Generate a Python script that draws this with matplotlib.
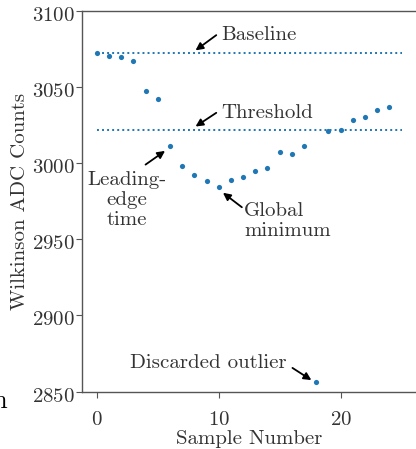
import matplotlib
matplotlib.use("Agg")
import matplotlib.pyplot as plt
import matplotlib.transforms as mtransforms

plt.rcParams['font.family'] = 'cmr10'
plt.rcParams['mathtext.fontset'] = 'cm'
plt.rcParams['axes.formatter.use_mathtext'] = True

# samples
sample = list(range(25))
counts = [3072, 3070, 3069.5, 3067, 3047, 3042, 3011, 2998, 2992, 2988,
          2984, 2989, 2991, 2995, 2997, 3007, 3006, 3011, 2856, 3021,
          3022, 3028, 3030, 3035, 3037]
baseline = 3072
threshold = 3022
line_span = [0, 25]

txt_col = '#333333'
dot_col = '#1f77b4'

fig = plt.figure(figsize=(4.16, 4.49), dpi=100)
ax = fig.add_axes([0.196, 0.128, 0.806, 0.848])

ax.plot(line_span, [baseline, baseline], linestyle=(0, (1, 1.6)), lw=1.4, color=dot_col)
ax.plot(line_span, [threshold, threshold], linestyle=(0, (1, 1.6)), lw=1.4, color=dot_col)
ax.scatter(sample, counts, s=14, color=dot_col, zorder=3, linewidths=0)

ax.set_xlim(-1.25, 26.25)
ax.set_ylim(2850, 3100)
ax.set_xticks([0, 10, 20])
ax.set_yticks([2850, 2900, 2950, 3000, 3050, 3100])

for s in ax.spines.values():
    s.set_color('#555555')
    s.set_linewidth(1.0)
ax.tick_params(axis='both', colors='#555555', labelcolor=txt_col, labelsize=15,
               length=4, width=0.8)
ax.tick_params(axis='y', pad=1)
ax.tick_params(axis='x', pad=10)

# tick labels sit a little below their ticks in the source
shift = mtransforms.ScaledTranslation(0, -3 / 100, fig.dpi_scale_trans)
for lab in ax.get_yticklabels():
    lab.set_transform(lab.get_transform() + shift)

ax.set_xlabel('Sample Number', fontsize=15, color=txt_col, labelpad=1)
ax.set_ylabel('Wilkinson ADC Counts', fontsize=15, color=txt_col, labelpad=2)

arrow = dict(arrowstyle='-|>', color='black', lw=1.3, mutation_scale=11,
             shrinkA=0, shrinkB=0)

# Baseline
ax.annotate('', xy=(8.1, 3074), xytext=(9.8, 3084), arrowprops=arrow)
ax.text(10.2, 3084, 'Baseline', fontsize=15, color=txt_col, va='center', ha='left')

# Threshold
ax.annotate('', xy=(8.1, 3024), xytext=(9.8, 3033), arrowprops=arrow)
ax.text(10.2, 3033, 'Threshold', fontsize=15, color=txt_col, va='center', ha='left')

# Leading-edge time
ax.annotate('', xy=(5.6, 3008), xytext=(4.0, 2999), arrowprops=arrow)
ax.text(2.5, 2976, 'Leading-\nedge\ntime', fontsize=15, color=txt_col,
        va='center', ha='center', multialignment='center', linespacing=1.15)

# Global minimum
ax.annotate('', xy=(10.35, 2980.5), xytext=(11.9, 2971), arrowprops=arrow)
ax.text(12.1, 2962, 'Global\nminimum', fontsize=15, color=txt_col,
        va='center', ha='left', multialignment='left', linespacing=1.15)

# Discarded outlier
ax.annotate('', xy=(17.6, 2857.5), xytext=(16.05, 2865.5), arrowprops=arrow)
ax.text(15.55, 2869, 'Discarded outlier', fontsize=15, color=txt_col,
        va='center', ha='right')

# stray glyph cut off at the left edge of the source image
fig.text(-0.018, 0.091, 'n', fontsize=19, color='black', ha='left', va='baseline')

fig.savefig('out.png', dpi=100)
